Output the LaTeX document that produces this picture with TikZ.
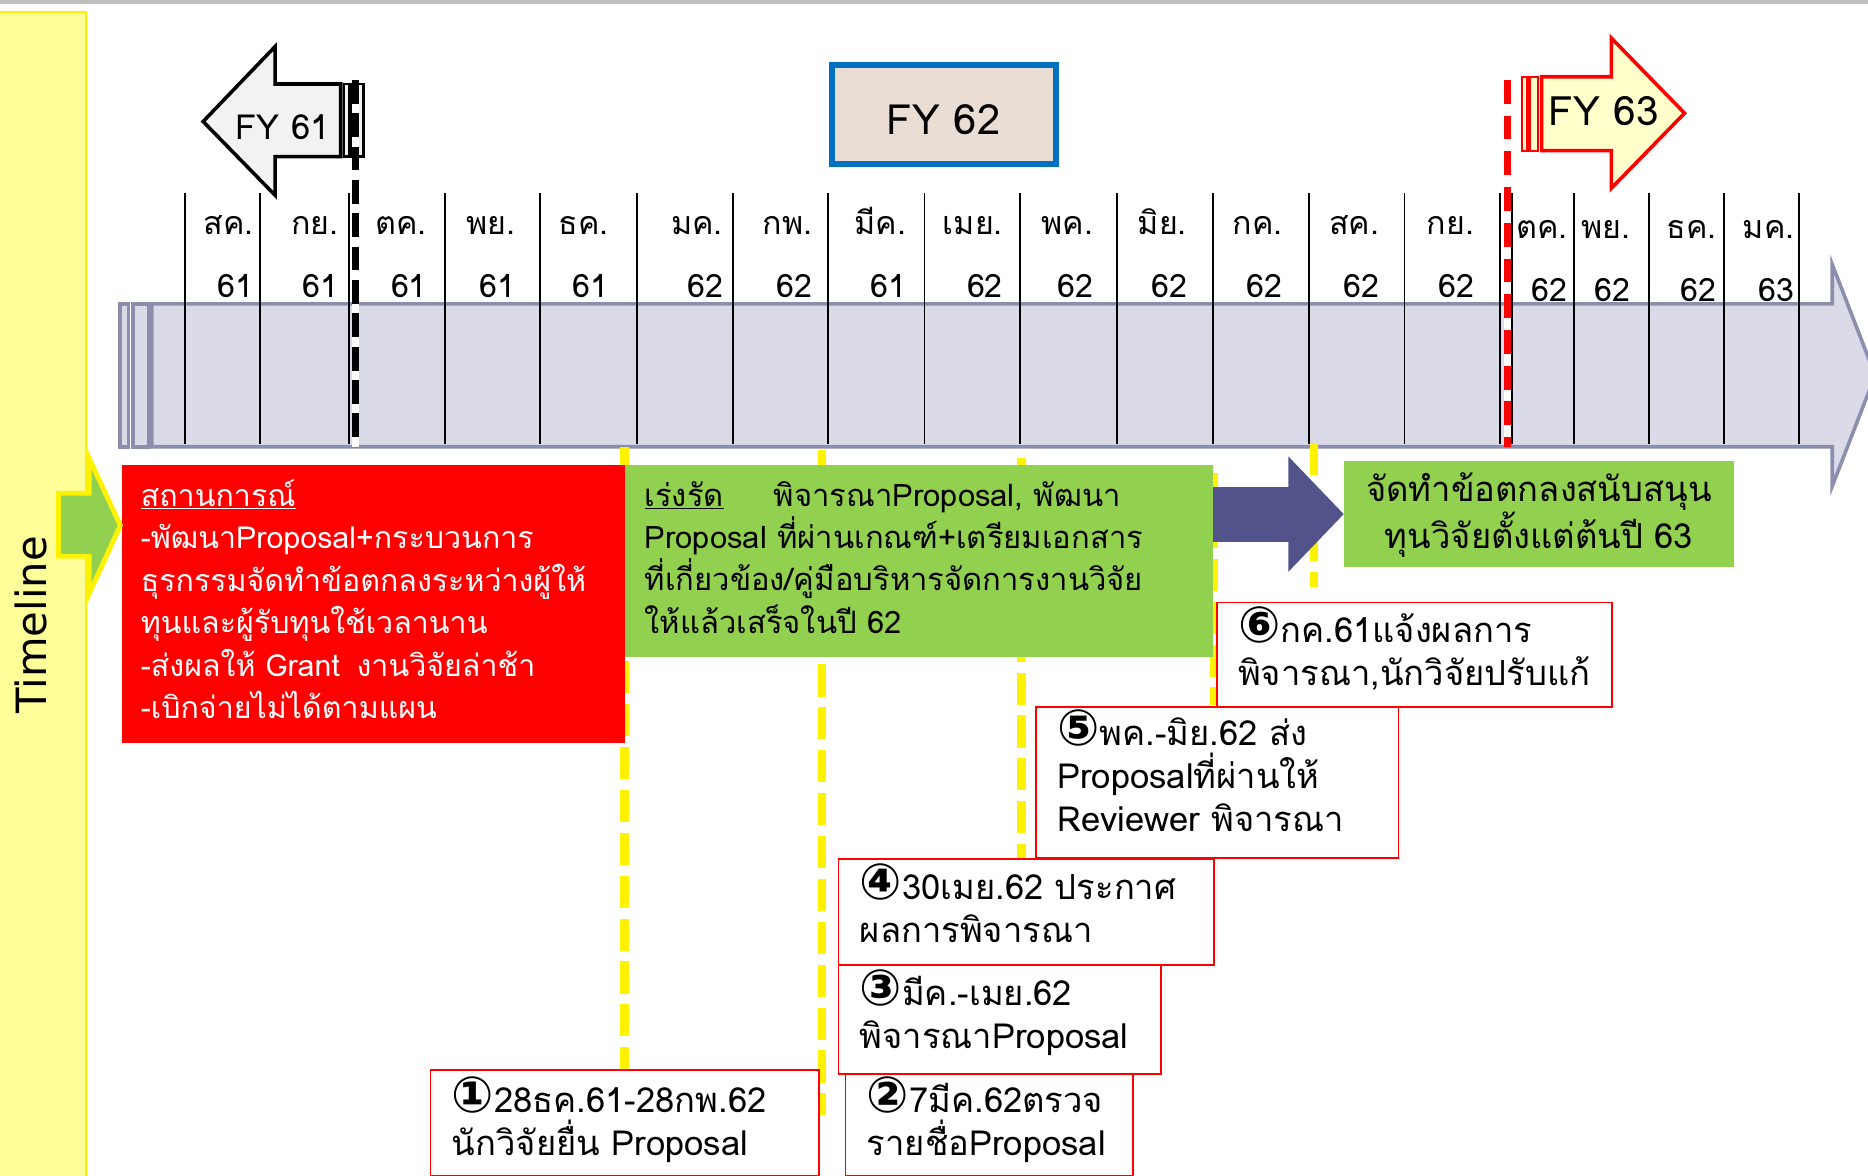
\documentclass[tikz,border=0pt]{standalone}
\usepackage{fontspec}
\usepackage{tikz}
\usetikzlibrary{arrows.meta}
\newfontfamily\thaifont[Script=Thai]{Loma}
\newfontfamily\symfont{DejaVu Sans}
\definecolor{bandyellow}{RGB}{255,255,153}
\definecolor{barfill}{RGB}{218,218,232}
\definecolor{barline}{RGB}{139,143,173}
\definecolor{fyblue}{RGB}{0,112,192}
\definecolor{fybeige}{RGB}{234,221,212}
\definecolor{fygray}{RGB}{242,242,242}
\definecolor{fycream}{RGB}{255,255,204}
\definecolor{leafgreen}{RGB}{146,208,80}
\definecolor{slateblue}{RGB}{82,83,138}
\lineskiplimit=-100pt
\newcommand{\cnum}[1]{{\symfont\bfseries\fontsize{42}{36}\selectfont #1}}
\tikzset{monthline/.style = {black, line width=1.5pt}}
\tikzset{month/.style = {font=\thaifont\fontsize{27}{53}\selectfont, align=right, text width=80pt, inner sep=0, anchor=base east}}
\tikzset{barshape/.style = {fill=barfill, draw=barline, line width=3pt}}
\tikzset{fytext/.style = {font=\thaifont\fontsize{30}{36}\selectfont, inner sep=0, anchor=base}}
\tikzset{yellowdash/.style = {yellow, line width=7pt, dash pattern=on 27pt off 9pt}}
\tikzset{textbox/.style = {align=left, anchor=north west, inner ysep=0pt}}
\tikzset{numbox/.style = {textbox, draw=red, line width=1.5pt, fill=white, inner xsep=18pt, font=\thaifont\fontsize{29}{36}\selectfont}}
\tikzset{blockarrow/.style = {slateblue, line width=46pt, -{Triangle[length=46.5pt, width=94pt]}}}

\begin{document}
\begin{tikzpicture}[x=1pt, y=-1pt]
        \useasboundingbox (0,0) rectangle (1568,987);
        \fill [white] (0,0) rectangle (1568,987);
        \fill [black!25] (0,0) rectangle (1568,3);
        \filldraw [fill=bandyellow, draw=yellow, line width=2pt] (-5,10) rectangle (72,995);

        % timeline bar
        \filldraw [barshape] (127.5,255) -- (1538,255) -- (1538,222) -- (1574,315) -- (1538,408) -- (1538,375) -- (127.5,375) -- cycle;
        \filldraw [barshape] (100.5,255) rectangle (108,375);
        \filldraw [barshape] (111.5,255) rectangle (125,375);
        \foreach \x in {155,218,293,373.5,453.5,534.5,615,695,776,856,937.5,1018,1099,1179,1259,1269,1321,1384,1447,1510}
            \draw [monthline] (\x,162) -- (\x,373);
        \foreach \r/\m/\yr/\b [count=\i] in {213/สค./61/197, 284.5/กย./61/197, 358.5/ตค./61/197, 433/พย./61/197, 511/ธค./61/197, 607/มค./62/197, 682/กพ./62/197, 761/มีค./61/197, 842/เมย./62/197, 918/พค./62/197, 996.5/มิย./62/197, 1076.7/กค./62/197, 1158/สค./62/197, 1237.5/กย./62/197, 1316/ตค./62/200, 1368.5/พย./62/200, 1441/ธค./62/200, 1506.5/มค./63/200}
            \node [month] (mon\i) at (\r,\b) {\m\\\yr};

        % fiscal years
        \filldraw [fill=fygray, draw=black, line width=3pt] (170.5,102) -- (231,39) -- (231,70.5) -- (286,70.5) -- (286,131.5) -- (231,131.5) -- (231,164) -- cycle;
        \filldraw [fill=fygray, draw=black, line width=2pt] (288.6,70.5) rectangle (293.5,131.5);
        \filldraw [fill=fygray, draw=black, line width=2pt] (296,70.5) rectangle (305,131.5);
        \node [fytext, font=\thaifont\fontsize{29}{36}\selectfont] (fy61) at (237,117.5) {FY 61};
        \draw [white, line width=6pt] (298.5,67) -- (298.5,375);
        \draw [black, line width=6pt, dash pattern=on 20pt off 8pt] (298.5,67) -- (298.5,375);

        \node [draw=fyblue, line width=5pt, fill=fybeige, minimum width=188pt, minimum height=83pt, inner sep=0, text height=34.2pt, text depth=0pt, font=\thaifont\fontsize{35}{40}\selectfont] (fy62) at (792,95.9) {FY 62};

        \filldraw [fill=fycream, draw=red, line width=3pt] (1294,64.4) -- (1352.6,64.4) -- (1352.6,32) -- (1414,95) -- (1352.6,158) -- (1352.6,126.5) -- (1294,126.5) -- cycle;
        \filldraw [fill=fycream, draw=red, line width=2pt] (1277.5,64.4) rectangle (1281.5,126.5);
        \filldraw [fill=fycream, draw=red, line width=2pt] (1284,64.4) rectangle (1291,126.5);
        \node [fytext, font=\thaifont\fontsize{34}{40}\selectfont] (fy63) at (1346,105) {FY 63};
        \draw [white, line width=6pt] (1265.4,67) -- (1265.4,375);
        \draw [red, line width=6pt, dash pattern=on 20pt off 10pt] (1265.4,67) -- (1265.4,375);

        % milestones
        \draw [yellowdash] (524.2,375) -- (524.2,904);
        \draw [yellowdash] (690,377.7) -- (690,936);
        \draw [yellowdash] (857.5,384.5) -- (857.5,720);
        \draw [yellowdash] (1019,397) -- (1019,592);
        \draw [yellowdash] (1103,372) -- (1103,492.5);

        \node [textbox, fill=red, text=white, inner xsep=16pt, text width=390.5pt, text height=34.7pt, text depth=198.4pt, font=\thaifont\fontsize{25.5}{35.6}\selectfont] (situation) at (102,390.3)
            {\underline{สถานการณ์}\\-พัฒนาProposal+กระบวนการ\\ธุรกรรมจัดทำข้อตกลงระหว่างผู้ให้\\ทุนและผู้รับทุนใช้เวลานาน\\-ส่งผลให้ Grant\hspace{14pt}งานวิจัยล่าช้า\\-เบิกจ่ายไม่ได้ตามแผน};
        \node [textbox, fill=leafgreen, inner xsep=17pt, text width=460pt, text height=34.7pt, text depth=126pt, font=\thaifont\fontsize{26}{35.4}\selectfont] (urgent) at (524,390.3)
            {\underline{เร่งรัด}\hspace{42pt}พิจารณาProposal, พัฒนา\\Proposal ที่ผ่านเกณฑ์+เตรียมเอกสาร\\ที่เกี่ยวข้อง/คู่มือบริหารจัดการงานวิจัย\\ให้แล้วเสร็จในปี 62};
        \node [textbox, align=center, fill=leafgreen, inner xsep=17pt, text width=293.4pt, text height=34pt, text depth=54.7pt, font=\thaifont\fontsize{29}{35}\selectfont] (fund) at (1128,387)
            {จัดทำข้อตกลงสนับสนุน\\ทุนวิจัยตั้งแต่ต้นปี 63};
        \draw [blockarrow] (urgent.east |- fund.west) -- (fund.west);

        \node [numbox, text width=290.4pt, text height=35.4pt, text depth=53.3pt] (step1) at (360.6,897.6) {\cnum{①}28ธค.61-28กพ.62\\นักวิจัยยื่น Proposal};
        \node [numbox, text width=205.4pt, text height=35.4pt, text depth=53.3pt] (step2) at (709,897.6) {\cnum{②}7มีค.62ตรวจ\\รายชื่อProposal};
        \node [numbox, text width=235pt, text height=34.1pt, text depth=57.4pt] (step3) at (703,809.5) {\cnum{③}มีค.-เมย.62\\พิจารณาProposal};
        \node [numbox, text width=279pt, text height=33.5pt, text depth=55.5pt] (step4) at (703,720.5) {\cnum{④}30เมย.62 ประกาศ\\ผลการพิจารณา};
        \node [numbox, text width=268.4pt, text height=32.8pt, text depth=94.3pt] (step5) at (868.8,592.6) {\cnum{⑤}พค.-มิย.62 ส่ง\\Proposalที่ผ่านให้\\Reviewer พิจารณา};
        \node [numbox, text width=295.9pt, text height=33.6pt, text depth=54.4pt] (step6) at (1020.5,505) {\cnum{⑥}กค.61แจ้งผลการ\\พิจารณา,นักวิจัยปรับแก้};

        % timeline label
        \filldraw [fill=leafgreen, draw=yellow, line width=4pt] (49,414) -- (75,414) -- (75,385) -- (101,441) -- (75,498) -- (75,467) -- (49,467) -- cycle;
        \node [rotate=90, anchor=base, inner sep=0, font=\symfont\fontsize{35}{40}\selectfont] (timeline) at (39.4,524.5) {Timeline};
    \end{tikzpicture}
\end{document}
